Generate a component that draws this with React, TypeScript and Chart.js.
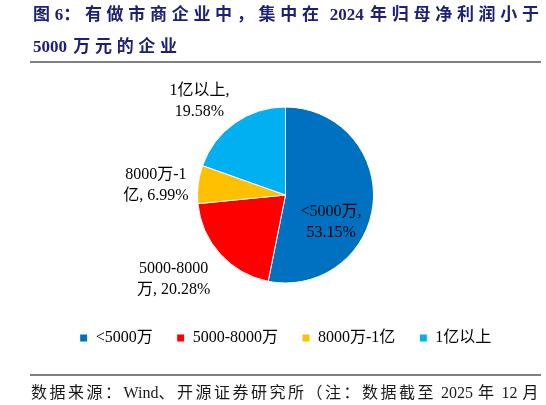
import React, { useEffect, useRef } from "react";
import { Chart, registerables } from "chart.js";

Chart.register(...registerables);

// ---- data ----
const CATEGORIES = ["<5000万", "5000-8000万", "8000万-1亿", "1亿以上"];
const SHARES = [53.15, 20.28, 6.99, 19.58];
const COLORS = ["#0070C0", "#FF0000", "#FFC000", "#00B0F0"];
// where each data label wraps onto its second line (character index)
const LABEL_BREAKS = [7, 9, 7, 5];

const TITLE_LINES = ["图6：有做市商企业中，集中在 2024 年归母净利润小于", "5000 万元的企业"];
const SOURCE_TEXT = "数据来源：Wind、开源证券研究所（注：数据截至 2025 年 12 月";

// ---- styling / placement (not data) ----
const SERIF = '"Liberation Serif", "Noto Sans CJK SC", serif';
const TITLE_COLOR = "#1d2078";
const PIE_RADIUS = 88;
const LABEL_LINE_H = 21;
const LABEL_PLACE = [
  { f: 0.6, dx: -7, dy: 22 },
  { f: 1.3, dx: -27, dy: 8 },
  { f: 1.3, dx: -16, dy: 4 },
  { f: 1.3, dx: -20, dy: 0 },
];

const CJK_CLASS = "\\u2E80-\\u9FFF\\u3000-\\u303F\\uFF00-\\uFFEF";
const RUN_RE = new RegExp(`[${CJK_CLASS}]+| +|[^${CJK_CLASS} ]+`, "g");
const CJK_RE = new RegExp(`[${CJK_CLASS}]`);

function Spaced({ text, cjk, space }: { text: string; cjk: number; space: number }) {
  const parts = text.match(RUN_RE) || [];
  return (
    <>
      {parts.map((p, i) => {
        if (CJK_RE.test(p)) return <span key={i} style={{ letterSpacing: cjk }}>{p}</span>;
        if (p.trim() === "") return <span key={i} style={{ letterSpacing: space }}>{p}</span>;
        return <span key={i}>{p}</span>;
      })}
    </>
  );
}

const sliceLabels = {
  id: "sliceLabels",
  afterDatasetsDraw(chart: any) {
    const ctx = chart.ctx;
    const meta = chart.getDatasetMeta(0);
    ctx.save();
    ctx.font = `16px ${SERIF}`;
    ctx.fillStyle = "#000";
    ctx.textAlign = "center";
    ctx.textBaseline = "middle";
    meta.data.forEach((arc: any, i: number) => {
      const { x, y, startAngle, endAngle, outerRadius } = arc.getProps(
        ["x", "y", "startAngle", "endAngle", "outerRadius"],
        true
      );
      const mid = (startAngle + endAngle) / 2;
      const p = LABEL_PLACE[i];
      const cx = x + Math.cos(mid) * outerRadius * p.f + p.dx;
      const cy = y + Math.sin(mid) * outerRadius * p.f + p.dy;
      const full = `${CATEGORIES[i]}, ${SHARES[i].toFixed(2)}%`;
      const lines = [full.slice(0, LABEL_BREAKS[i]).trim(), full.slice(LABEL_BREAKS[i]).trim()];
      lines.forEach((ln, j) => {
        ctx.fillText(ln, cx, cy + (j - (lines.length - 1) / 2) * LABEL_LINE_H);
      });
    });
    ctx.restore();
  },
};

export default function App() {
  const canvasRef = useRef<HTMLCanvasElement | null>(null);

  useEffect(() => {
    if (!canvasRef.current) return;
    const chart = new Chart(canvasRef.current, {
      type: "pie",
      data: {
        labels: CATEGORIES,
        datasets: [
          {
            data: SHARES,
            backgroundColor: COLORS,
            borderColor: "#ffffff",
            borderWidth: 1,
          },
        ],
      },
      options: {
        animation: false,
        responsive: true,
        maintainAspectRatio: false,
        radius: PIE_RADIUS,
        events: [],
        layout: { padding: { top: 84, bottom: 49, left: 35, right: 10 } },
        plugins: {
          tooltip: { enabled: false },
          title: { display: false },
          legend: {
            display: true,
            position: "bottom",
            align: "center",
            labels: {
              boxWidth: 8,
              boxHeight: 8,
              padding: 24,
              color: "#000",
              font: { family: SERIF, size: 16 },
            },
          },
        },
      } as any,
      plugins: [sliceLabels],
    });
    return () => chart.destroy();
  }, []);

  return (
    <div
      style={{
        position: "absolute",
        left: 0,
        top: 0,
        width: 546,
        height: 405,
        background: "#fff",
        overflow: "hidden",
      }}
    >
      <div style={{ position: "absolute", left: 0, top: 0, width: 546, height: 405 }}>
        <canvas ref={canvasRef} />
      </div>
      <div
        style={{
          position: "absolute",
          left: 33,
          top: -1,
          fontFamily: SERIF,
          fontWeight: "bold",
          fontSize: 17,
          lineHeight: "32px",
          color: TITLE_COLOR,
          whiteSpace: "nowrap",
        }}
      >
        {TITLE_LINES.map((t, i) => (
          <div key={i}>
            <Spaced text={t} cjk={4.7} space={2} />
          </div>
        ))}
      </div>
      <div style={{ position: "absolute", left: 30, top: 61, width: 511, height: 2, background: "#808080" }} />
      <div style={{ position: "absolute", left: 30, top: 374, width: 511, height: 2, background: "#808080" }} />
      <div
        style={{
          position: "absolute",
          left: 31,
          top: 382,
          fontFamily: SERIF,
          fontSize: 16,
          lineHeight: "22px",
          color: "#1a1a1a",
          whiteSpace: "nowrap",
        }}
      >
        <Spaced text={SOURCE_TEXT} cjk={2.5} space={1} />
      </div>
    </div>
  );
}
